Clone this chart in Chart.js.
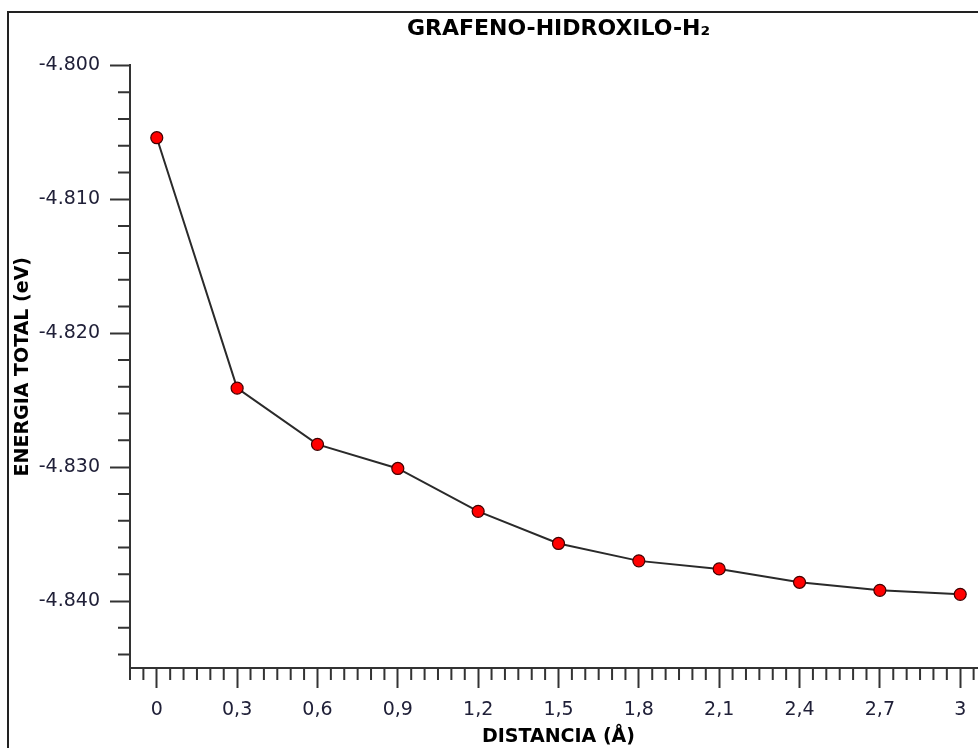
<!DOCTYPE html>
<html lang="es">
<head>
    <meta charset="UTF-8">
    <title>Grafeno-Hidroxilo-H2</title>
    <script src="https://cdn.jsdelivr.net/npm/chart.js@4.4.1/dist/chart.umd.min.js"></script>
    <style>
        html, body { margin: 0; padding: 0; overflow: hidden; background: #fff; }
        #frame { position: absolute; left: 7px; top: 11px; width: 1100px; height: 900px;
                 border-left: 2px solid #222; border-top: 2px solid #222; }
        #wrap { position: absolute; left: 0; top: 0; }
    </style>
</head>
<body>
    <div id="frame"></div>
    <div id="wrap"><canvas id="chart" width="1000" height="748"></canvas></div>

    <script>
        // distancia (Å) and energia total (eV)
        const distancia = [0, 0.3, 0.6, 0.9, 1.2, 1.5, 1.8, 2.1, 2.4, 2.7, 3.0];
        const energia = [-4.8054, -4.8241, -4.8283, -4.8301, -4.8333, -4.8357,
                         -4.8370, -4.8376, -4.8386, -4.8392, -4.8395];

        const xMin = -0.1, xMax = 3.1, xStep = 0.3, xMinor = 0.05;
        const yMin = -4.845, yMax = -4.800, yStep = 0.01, yMinor = 0.002;

        const axisColor = '#333';
        Chart.defaults.font.family = "'DejaVu Sans', Verdana, sans-serif";

        // short minor ticks, placed with the scales' own pixel mapping
        const minorTicks = {
            id: 'minorTicks',
            afterDraw(chart) {
                const ctx = chart.ctx;
                const xs = chart.scales.x, ys = chart.scales.y;
                ctx.save();
                ctx.strokeStyle = axisColor;
                ctx.lineWidth = 2;
                ctx.beginPath();
                const per = Math.round(xStep / xMinor);
                for (let i = Math.ceil(xMin / xMinor); i * xMinor <= xMax + 1e-9; i++) {
                    if (i % per === 0) continue;
                    const px = xs.getPixelForValue(i * xMinor);
                    ctx.moveTo(px, xs.top);
                    ctx.lineTo(px, xs.top + 12);
                }
                const perY = Math.round(yStep / yMinor);
                for (let i = 0; yMax - i * yMinor >= yMin - 1e-9; i++) {
                    if (i % perY === 0) continue;
                    const py = ys.getPixelForValue(yMax - i * yMinor);
                    ctx.moveTo(ys.right, py);
                    ctx.lineTo(ys.right - 12, py);
                }
                ctx.stroke();
                ctx.restore();
            }
        };

        const ctx = document.getElementById('chart').getContext('2d');
        new Chart(ctx, {
            type: 'line',
            data: {
                datasets: [{
                    data: distancia.map((d, i) => ({x: d, y: energia[i]})),
                    borderColor: '#2a2a2a',
                    borderWidth: 2,
                    pointRadius: 6,
                    pointBackgroundColor: '#ff0000',
                    pointBorderColor: '#400000',
                    pointBorderWidth: 1.2,
                    tension: 0,
                    clip: false
                }]
            },
            options: {
                responsive: false,
                animation: false,
                layout: { padding: { left: 0, right: 13, top: 0, bottom: 0 } },
                plugins: {
                    legend: { display: false },
                    tooltip: { enabled: false },
                    title: {
                        display: true,
                        fullSize: false,
                        text: 'GRAFENO-HIDROXILO-H₂',
                        color: '#000',
                        font: { size: 22, weight: 'bold' },
                        padding: { top: 16, bottom: 23 }
                    }
                },
                scales: {
                    x: {
                        type: 'linear',
                        min: xMin,
                        max: xMax,
                        afterFit(s) { s.height = 80; },
                        grid: { drawOnChartArea: false, tickLength: 20, tickColor: axisColor, tickWidth: 2 },
                        border: { color: axisColor, width: 2 },
                        ticks: {
                            stepSize: xStep,
                            includeBounds: false,
                            maxRotation: 0,
                            autoSkip: false,
                            padding: 11,
                            color: '#202038',
                            font: { size: 19 },
                            callback: v => String(Number(v.toFixed(2))).replace('.', ',')
                        },
                        title: {
                            display: true,
                            text: 'DISTANCIA (Å)',
                            color: '#000',
                            font: { size: 19, weight: 'bold' },
                            padding: { top: 0, bottom: 0 }
                        }
                    },
                    y: {
                        min: yMin,
                        max: yMax,
                        afterFit(s) { s.width = 130; },
                        grid: { drawOnChartArea: false, tickLength: 20, tickColor: axisColor, tickWidth: 2 },
                        border: { color: axisColor, width: 2 },
                        ticks: {
                            stepSize: yStep,
                            includeBounds: false,
                            padding: 10,
                            color: '#202038',
                            font: { size: 19 },
                            callback: v => v.toFixed(3)
                        },
                        title: {
                            display: true,
                            text: 'ENERGIA TOTAL (eV)',
                            color: '#000',
                            font: { size: 19, weight: 'bold' },
                            padding: { top: 12, bottom: 0 }
                        }
                    }
                }
            },
            plugins: [minorTicks]
        });
    </script>
</body>
</html>
